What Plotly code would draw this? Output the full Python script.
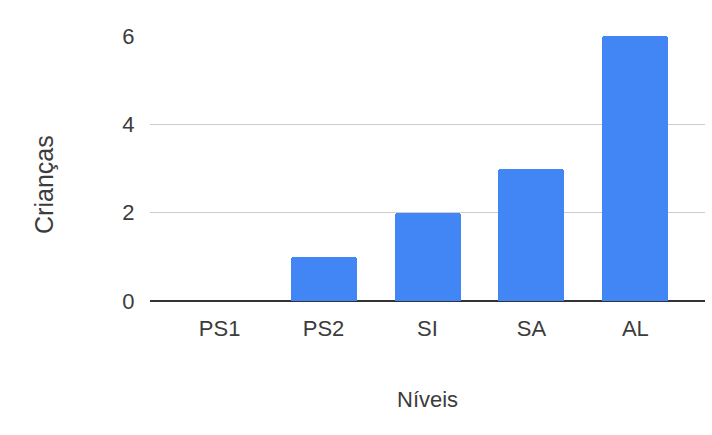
import plotly.graph_objects as go

categories = ["PS1", "PS2", "SI", "SA", "AL"]
values = [0, 1, 2, 3, 6]
y_ticks = [0, 2, 4, 6]
x_title = "Níveis"
y_title = "Crianças"

fig = go.Figure(go.Bar(
    x=list(range(len(categories))), y=values,
    marker=dict(color="#4285F4", line=dict(width=0), cornerradius=3),
    width=0.635,
))

font = "Arial, Liberation Sans, sans-serif"
txt = "#3c3c3c"
fig.update_layout(
    width=712, height=435,
    margin=dict(l=150, r=7, t=36, b=134),
    paper_bgcolor="white", plot_bgcolor="white",
    font=dict(family=font, size=22, color=txt),
    showlegend=False,
    bargap=0,
)
fig.update_xaxes(
    tickmode="array", tickvals=list(range(len(categories))), ticktext=categories,
    range=[-0.67, 4.67], showgrid=False, showline=False,
    ticks="outside", ticklen=8, tickcolor="rgba(0,0,0,0)",
    tickfont=dict(size=22, color=txt),
    automargin=False,
)
fig.update_yaxes(
    range=[0, 6], tickvals=y_ticks, showgrid=True, gridcolor="#cccccc", gridwidth=1,
    zeroline=True, zerolinecolor="#333333", zerolinewidth=2,
    showline=False, ticks="outside", ticklen=10, tickcolor="rgba(0,0,0,0)",
    tickfont=dict(size=22, color=txt),
    automargin=False,
)
fig.add_annotation(
    text=x_title, xref="paper", yref="paper", x=0.5, y=-0.37,
    xanchor="center", yanchor="middle", showarrow=False,
    font=dict(size=22, color=txt),
)
fig.add_annotation(
    text=y_title, xref="paper", yref="paper", x=-0.19, y=0.44,
    xanchor="center", yanchor="middle", showarrow=False, textangle=-90,
    font=dict(size=25, color=txt),
)
fig.write_html("out.html")
